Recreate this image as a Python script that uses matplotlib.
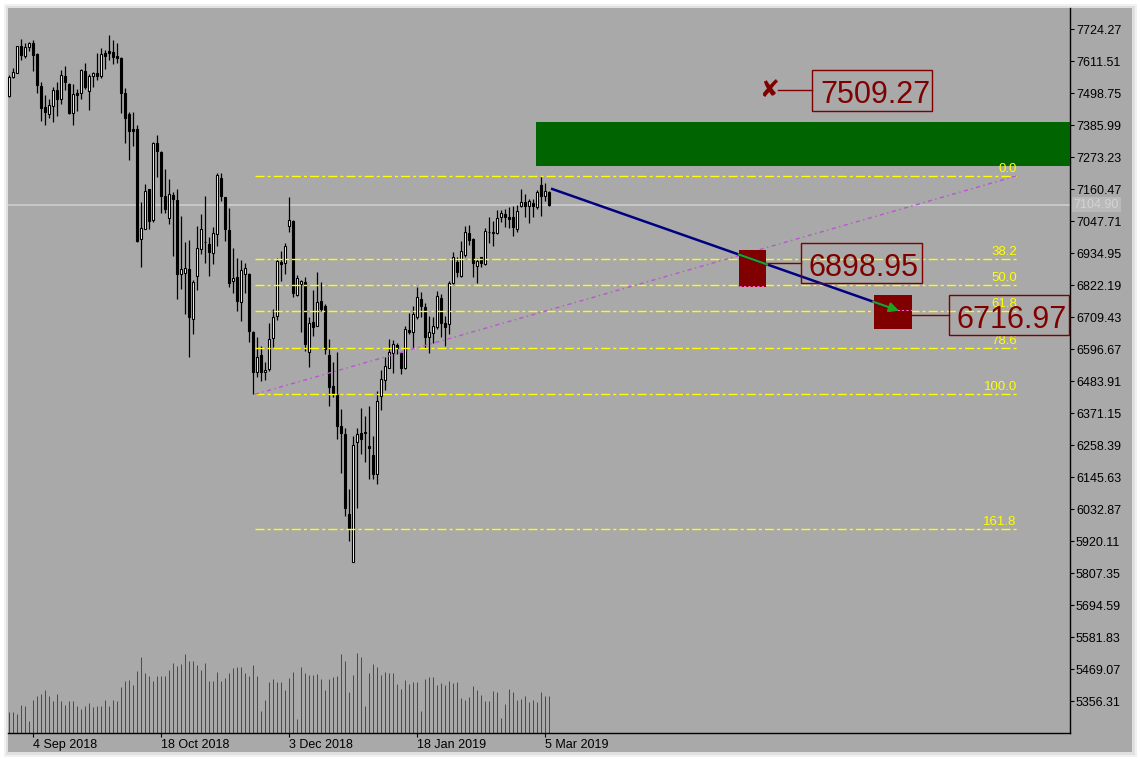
import numpy as np
import matplotlib
matplotlib.use("Agg")
import matplotlib.pyplot as plt
from matplotlib.patches import Rectangle
import matplotlib.transforms as mtransforms

# ---------------- data ----------------
opens = [7488, 7555, 7570, 7664, 7629, 7662, 7674, 7636, 7523, 7449,
         7426, 7454, 7509, 7477, 7559, 7530, 7429, 7500, 7498, 7576,
         7507, 7560, 7568, 7559, 7639, 7647, 7642, 7629, 7621, 7500,
         7425, 7372, 7372, 6985, 7020, 7159, 7051, 7321, 7291, 7136,
         7059, 7139, 7122, 6860, 6863, 6878, 6703, 6855, 6948, 6973,
         6966, 6936, 7001, 7198, 7131, 7016, 6837, 6849, 6763, 6860,
         6861, 6658, 6517, 6576, 6515, 6526, 6634, 6714, 6902, 6899,
         7031, 7048, 6787, 6825, 6832, 6587, 6691, 6679, 6766, 6748,
         6576, 6466, 6435, 6325, 6297, 6015, 5847, 6268, 6300, 6303,
         6255, 6223, 6156, 6432, 6487, 6531, 6582, 6611, 6582, 6529,
         6664, 6656, 6710, 6773, 6746, 6638, 6653, 6673, 6775, 6690,
         6684, 6828, 6902, 6855, 6928, 7004, 6984, 6890, 6920, 6896,
         7008, 7008, 7006, 7061, 7072, 7063, 7061, 7018, 7102, 7114,
         7102, 7112, 7098, 7175, 7137, 7151]
highs = [7562, 7586, 7666, 7688, 7674, 7680, 7686, 7638, 7539, 7492,
         7478, 7519, 7536, 7580, 7594, 7533, 7530, 7513, 7583, 7606,
         7565, 7574, 7641, 7656, 7650, 7703, 7686, 7676, 7624, 7515,
         7433, 7431, 7386, 7114, 7178, 7160, 7327, 7351, 7293, 7231,
         7196, 7151, 7159, 7065, 6975, 6981, 6840, 7030, 7071, 7136,
         6990, 7025, 7218, 7218, 7133, 7092, 6953, 6916, 6910, 6899,
         6863, 6660, 6640, 6607, 6552, 6687, 6737, 6918, 6943, 6969,
         7133, 7051, 6857, 6840, 6849, 6710, 6805, 6867, 6832, 6755,
         6632, 6552, 6585, 6385, 6317, 6103, 6290, 6317, 6388, 6361,
         6396, 6290, 6450, 6523, 6567, 6632, 6628, 6617, 6587, 6679,
         6722, 6748, 6816, 6799, 6760, 6713, 6710, 6801, 6790, 6713,
         6836, 6937, 6920, 6977, 7031, 7034, 6989, 6916, 6922, 7022,
         7063, 7049, 7086, 7086, 7089, 7098, 7102, 7104, 7160, 7143,
         7125, 7125, 7157, 7206, 7181, 7152]
lows = [7485, 7553, 7569, 7615, 7623, 7648, 7576, 7498, 7401, 7386,
        7410, 7398, 7418, 7460, 7509, 7425, 7386, 7435, 7478, 7512,
        7439, 7521, 7545, 7553, 7583, 7615, 7601, 7603, 7429, 7324,
        7263, 7313, 6974, 6887, 7018, 7020, 7045, 7204, 7077, 7077,
        7037, 6924, 6773, 6807, 6720, 6570, 6650, 6805, 6931, 6901,
        6855, 6896, 6960, 7119, 6978, 6816, 6793, 6732, 6696, 6793,
        6620, 6437, 6497, 6485, 6488, 6520, 6603, 6699, 6837, 6861,
        7010, 6779, 6783, 6658, 6591, 6532, 6642, 6677, 6732, 6579,
        6397, 6429, 6279, 6159, 6009, 5921, 5845, 6037, 6227, 6200,
        6138, 6138, 6121, 6382, 6452, 6529, 6513, 6579, 6509, 6527,
        6650, 6599, 6701, 6708, 6599, 6582, 6619, 6667, 6640, 6608,
        6648, 6826, 6851, 6851, 6922, 6963, 6851, 6830, 6887, 6894,
        6969, 6960, 7002, 7045, 7028, 7022, 6995, 7008, 7096, 7063,
        7042, 7063, 7090, 7066, 7119, 7100]
closes = [7556, 7572, 7664, 7633, 7660, 7676, 7633, 7527, 7447, 7433,
          7455, 7509, 7477, 7562, 7539, 7429, 7495, 7492, 7580, 7519,
          7560, 7570, 7559, 7636, 7629, 7639, 7625, 7621, 7500, 7412,
          7366, 7365, 6977, 7022, 7152, 7049, 7321, 7295, 7137, 7090,
          7142, 7125, 6861, 6878, 6881, 6710, 6832, 6952, 7018, 6972,
          6940, 7004, 7209, 7137, 7020, 6830, 6846, 6767, 6875, 6881,
          6661, 6515, 6567, 6517, 6523, 6631, 6708, 6907, 6896, 6960,
          7051, 6795, 6846, 6836, 6614, 6687, 6675, 6761, 6738, 6596,
          6464, 6438, 6325, 6302, 6037, 5965, 6258, 6296, 6280, 6302,
          6249, 6156, 6413, 6490, 6537, 6587, 6614, 6599, 6531, 6667,
          6656, 6719, 6779, 6749, 6640, 6658, 6678, 6783, 6690, 6673,
          6828, 6922, 6869, 6942, 7008, 6981, 6899, 6907, 6901, 7012,
          7008, 7007, 7057, 7075, 7061, 7055, 7028, 7083, 7114, 7102,
          7118, 7102, 7151, 7137, 7153, 7104.9]
volumes = [620, 620, 580, 850, 820, 350, 1000, 1100, 1180, 1300,
           1100, 970, 1180, 950, 850, 950, 970, 800, 730, 820,
           900, 770, 820, 820, 1000, 820, 1000, 970, 1370, 1550,
           1580, 1450, 1850, 2270, 1800, 1700, 1550, 1700, 1700, 1720,
           1900, 2110, 2020, 2080, 2380, 2150, 2170, 2050, 1900, 2110,
           1550, 1570, 1840, 1550, 1660, 1810, 1960, 1990, 1990, 1790,
           1700, 2050, 1700, 650, 1000, 1520, 1620, 1540, 1520, 1300,
           1650, 1840, 430, 1990, 1810, 1750, 1730, 1760, 1630, 1300,
           1630, 1670, 1700, 2380, 2170, 1230, 1750, 2400, 2270, 800,
           1810, 2080, 1990, 1750, 1840, 1810, 1810, 1480, 1330, 1600,
           1480, 1540, 1540, 650, 1630, 1690, 1690, 1450, 1510, 1450,
           1570, 1510, 1540, 1060, 1000, 1090, 1420, 1300, 1150, 970,
           970, 1270, 1240, 460, 880, 1330, 1240, 1000, 1030, 1120,
           940, 1000, 940, 1240, 1120, 1120]

date_ticks_idx = [6, 38, 70, 102, 134]
date_labels = ["4 Sep 2018", "18 Oct 2018", "3 Dec 2018", "18 Jan 2019", "5 Mar 2019"]
price_ticks = [7724.27, 7611.51, 7498.75, 7385.99, 7273.23, 7160.47, 7047.71,
               6934.95, 6822.19, 6709.43, 6596.67, 6483.91, 6371.15, 6258.39,
               6145.63, 6032.87, 5920.11, 5807.35, 5694.59, 5581.83, 5469.07, 5356.31]
current_price = 7104.90

fib_levels = [0.0, 38.2, 50.0, 61.8, 78.6, 100.0, 161.8]
fib_labels = ["0.0", "38.2", "50.0", "61.8", "78.6", "100.0", "161.8"]
fib_high = 7206.0
fib_low = 6437.0
fib_t0, fib_t1 = 61.5, 252.25

zone_lo, zone_hi = 7241.5, 7396.6          # green resistance zone
proj_start = (135.5, 7162.0)                # blue projection line
proj_end = (222.0, 6734.0)
target_prices = [6898.95, 6716.97]
stop_price = 7509.27

# ---------------- figure ----------------
W, H = 1140, 760
fig = plt.figure(figsize=(W / 100, H / 100), dpi=100)
fig.patch.set_facecolor("white")
plt.rcParams["font.family"] = ["Liberation Sans", "DejaVu Sans"]


def fr(x0, y0, x1, y1):
    return (x0 / W, 1 - y1 / H), (x1 - x0) / W, (y1 - y0) / H


for (x0, y0, x1, y1, col) in [(4, 4, 1137, 757, "#f1f1f1"), (6, 6, 1135, 755, "#e0e0e0")]:
    xy, w, h = fr(x0, y0, x1, y1)
    fig.patches.append(Rectangle(xy, w, h, transform=fig.transFigure,
                                 facecolor=col, edgecolor="none", zorder=0))
xy, w, h = fr(8, 8, 1132, 752)
fig.patches.append(Rectangle(xy, w, h, transform=fig.transFigure,
                             facecolor="#A9A9A9", edgecolor="none", zorder=0))

rect = [8 / W, 1 - 733 / H, (1070 - 8) / W, (733 - 8) / H]
ax = fig.add_axes(rect)
axv = fig.add_axes(rect, sharex=ax)
ax.set_zorder(2)
axv.set_zorder(1)
ax.patch.set_alpha(0)
axv.patch.set_alpha(0)

n = len(opens)
x = np.arange(n)
o = np.array(opens, float)
c = np.array(closes, float)
hi = np.maximum(np.array(highs, float), np.maximum(o, c))
lo = np.minimum(np.array(lows, float), np.minimum(o, c))

# volumes
axv.vlines(x, 0, volumes, color="#008000", lw=0.72, snap=True)
axv.set_ylim(0, 21750)
axv.axis("off")

ax.set_xlim(-0.25, 265.25)
ax.set_ylim(5243.6, 7798.3)

# current price line
ax.axhline(current_price, color="#C8C8C8", lw=1.4, zorder=2)

# candles
up = c >= o
blo = np.minimum(o, c)
bhi = np.maximum(o, c)
ax.vlines(x, lo, hi, color="black", lw=0.9, zorder=3)
ax.bar(x, np.maximum(bhi - blo, 1.5), bottom=blo, width=0.55,
       color=np.where(up, "white", "black"), edgecolor="black",
       linewidth=0.8, zorder=4)

# green zone
ax.add_patch(Rectangle((131.75, zone_lo), 265.25 - 131.75, zone_hi - zone_lo,
                       facecolor="#006400", edgecolor="none", zorder=5))

# fibonacci
rng = fib_high - fib_low
for lv, lb in zip(fib_levels, fib_labels):
    p = fib_high - lv / 100.0 * rng
    ax.plot([fib_t0, fib_t1], [p, p], color="#FFFF00", lw=1.0,
            dashes=(6.5, 2.2, 2.2, 2.2), zorder=5)
    ax.annotate(lb, (fib_t1 - 0.3, p), xytext=(0, 1), textcoords="offset pixels",
                ha="right", va="bottom", color="#FFFF00", fontsize=9.5, zorder=6)
ax.plot([fib_t0, 251.75], [fib_low, fib_high], color="#BA55D3", lw=1.0,
        dashes=(3, 2.5, 1, 2.5), zorder=5)

# target boxes
ax.add_patch(Rectangle((182.5, 6816.2), 189.25 - 182.5, 6945.5 - 6816.2,
                       facecolor="#800000", edgecolor="none", zorder=6))
ax.add_patch(Rectangle((216.25, 6668.2), 225.75 - 216.25, 6787.0 - 6668.2,
                       facecolor="#800000", edgecolor="none", zorder=6))

# projection line
ax.plot([proj_start[0], proj_end[0]], [proj_start[1], proj_end[1]],
        color="#000080", lw=1.8, zorder=7, solid_capstyle="butt")
slope = (proj_end[1] - proj_start[1]) / (proj_end[0] - proj_start[0])


def proj(t):
    return proj_start[1] + slope * (t - proj_start[0])


ax.plot([182.5, 189.5], [proj(182.5), proj(189.5)], color="#22A022", lw=1.6, zorder=8)
ax.annotate("", xy=(proj_end[0] + 0.5, proj(proj_end[0] + 0.5)),
            xytext=(216.0, proj(216.0)),
            arrowprops=dict(arrowstyle="-|>", color="#22A022", lw=1.6,
                            mutation_scale=14, shrinkA=0, shrinkB=0), zorder=8)
ax.plot([182.5, 189.25], [6819.7, 6819.7], color="#FF66CC", lw=0.8,
        dashes=(2, 2), zorder=7)
ax.plot([222.0, 225.75], [6734.1, 6734.1], color="#FF66CC", lw=0.8,
        dashes=(2, 2), zorder=7)

# price labels
labels = [
    (stop_price, 192.25, 200.75, 230.75, 7579.8, 7435.3),
    (target_prices[0], 189.25, 198.0, 228.25, 6970.2, 6829.2),
    (target_prices[1], 225.75, 235.0, 265.0, 6787.0, 6646.0),
]
for price, c0, bx0, bx1, btop, bbot in labels:
    ax.plot([c0, bx0], [price, price], color="#800000", lw=1.0, zorder=7)
    ax.add_patch(Rectangle((bx0, bbot), bx1 - bx0, btop - bbot, facecolor="none",
                           edgecolor="#800000", lw=1.0, zorder=7, clip_on=False))
    ax.annotate(f"{price:.2f}", (bx0, price), xytext=(8, -12.8),
                textcoords="offset pixels", ha="left", va="baseline",
                fontsize=22, color="#800000", zorder=8, annotation_clip=False)
ax.text(190.0, stop_price, "\u2718", ha="center", va="center", fontsize=17,
        fontweight="bold", color="#800000", family=["DejaVu Sans"], zorder=8)

# axes styling
for s in ["top", "left"]:
    ax.spines[s].set_visible(False)
for s in ["right", "bottom"]:
    ax.spines[s].set_color("black")
    ax.spines[s].set_linewidth(1.0)
ax.yaxis.tick_right()
ax.set_yticks(price_ticks)
ax.set_yticklabels([f"{v:.2f}" for v in price_ticks])
ax.tick_params(axis="y", length=2.9, width=0.8, pad=1.4, labelsize=9, colors="black")
ax.set_xticks(date_ticks_idx)
ax.set_xticklabels(date_labels, ha="left")
ax.tick_params(axis="x", length=2.9, width=0.8, pad=1.4, labelsize=9, colors="black")

blend = mtransforms.blended_transform_factory(ax.transAxes, ax.transData)
ax.text(1.0035, current_price, f"{current_price:.2f}", transform=blend,
        ha="left", va="center", fontsize=9, color="#D3D3D3", clip_on=False,
        bbox=dict(facecolor="#B9B9B9", edgecolor="none", pad=1.2), zorder=9)

fig.savefig("out.png", dpi=100)
